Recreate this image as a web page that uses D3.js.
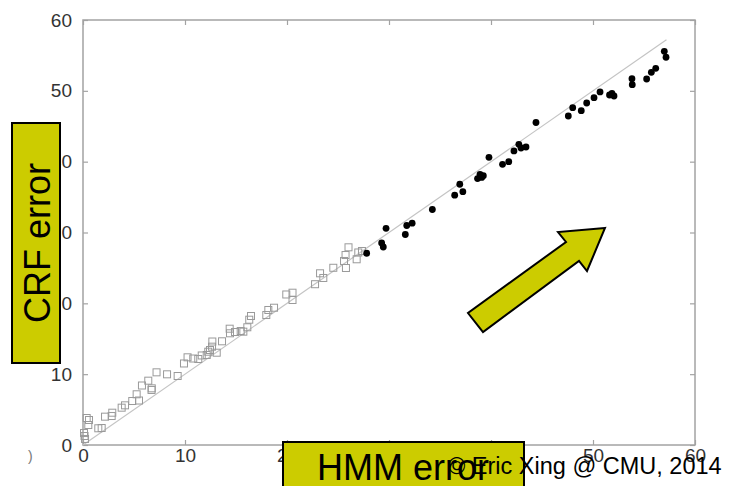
<!DOCTYPE html>
<html>
<head>
    <title>CRF vs HMM error</title>
    <style>
        body { margin: 0; background: #fff; }
        svg { display: block; font-family: "Liberation Sans", Arial, sans-serif; }
        .frame { fill: none; stroke: #a3a3a3; stroke-width: 1.5px; }
        .tick line { stroke: #a3a3a3; stroke-width: 1.2px; }
        .tick text { fill: #333; font-size: 19px; }
        .diag { stroke: #c4c4c4; stroke-width: 1.2px; }
        .sq { fill: none; stroke: #9a9a9a; stroke-width: 1px; }
        .dot { fill: #000; }
        .box { fill: #cccc00; stroke: #000; stroke-width: 2px; }
        .label { font-size: 36px; fill: #000; }
    </style>
</head>
<body>
    <div id="chart"></div>

    <script src="https://d3js.org/d3.v7.min.js"></script>
    <script>
        // tick values shared by both axes
        const ticks = [0, 10, 20, 30, 40, 50, 60];

        // open squares (small errors): [HMM error, CRF error]
        const squares = [
            [0.20, 0.85], [0.10, 1.69], [0.15, 1.27], [0.36, 3.81], [0.59, 3.53],
            [0.52, 2.82], [1.50, 2.36], [1.83, 2.40], [2.16, 4.00], [2.87, 4.56],
            [2.81, 4.09], [3.79, 5.27], [4.12, 5.60], [4.83, 6.21], [5.26, 7.16],
            [5.49, 6.28], [5.78, 8.40], [6.40, 9.08], [6.74, 8.00], [6.72, 7.77],
            [7.21, 10.26], [8.24, 9.98], [9.28, 9.74], [9.90, 11.51], [10.25, 12.38],
            [10.81, 12.21], [11.30, 12.14], [11.64, 12.64], [12.13, 12.71], [12.28, 13.17],
            [12.45, 13.41], [12.68, 14.61], [12.65, 13.88], [13.11, 13.03], [13.63, 14.64],
            [14.38, 16.42], [14.41, 15.77], [14.90, 15.95], [15.46, 16.09], [15.72, 16.00],
            [16.11, 16.62], [16.30, 17.69], [16.47, 18.21], [17.97, 18.35], [18.17, 19.06],
            [18.73, 19.38], [19.93, 21.25], [20.54, 21.50], [20.54, 20.47], [22.75, 22.70],
            [23.24, 24.24], [23.56, 23.58], [24.54, 25.02], [25.59, 25.98], [25.74, 26.82],
            [26.03, 27.91], [25.78, 24.99], [26.83, 26.22], [26.99, 27.18], [27.35, 27.39]
        ];

        // filled dots (large errors)
        const dots = [
            [27.81, 27.07], [29.28, 28.52], [29.44, 27.95], [29.71, 30.59], [31.60, 29.72],
            [31.74, 30.99], [32.27, 31.31], [34.25, 33.25], [36.44, 35.27], [36.94, 36.81],
            [37.24, 35.76], [38.68, 37.61], [38.92, 38.19], [39.25, 38.01], [39.09, 37.77],
            [39.80, 40.62], [41.13, 39.63], [41.74, 40.00], [42.25, 41.51], [42.73, 42.45],
            [42.94, 41.93], [43.43, 42.07], [44.41, 45.53], [47.58, 46.45], [48.01, 47.62],
            [48.85, 47.20], [49.38, 48.28], [50.10, 49.03], [50.69, 49.84], [51.62, 49.41],
            [51.86, 49.63], [52.06, 49.27], [53.82, 51.72], [53.85, 50.87], [55.26, 51.67],
            [55.72, 52.62], [56.15, 53.18], [56.99, 55.58], [57.16, 54.74]
        ];

        // y = x reference line
        const diagEnd = 57.2;

        const width = 729;
        const height = 486;

        const svg = d3.select("#chart")
            .append("svg")
            .attr("width", width)
            .attr("height", height);

        const x = d3.scaleLinear().domain([0, 60]).range([83, 695]);
        const y = d3.scaleLinear().domain([0, 60]).range([445, 20]);

        // axes, ticks pointing inward
        svg.append("g")
            .attr("transform", `translate(0,${y(0)})`)
            .call(d3.axisBottom(x).tickValues(ticks).tickSizeInner(-5).tickSizeOuter(0).tickPadding(4));
        svg.append("g")
            .attr("transform", `translate(${x(0)},0)`)
            .call(d3.axisLeft(y).tickValues(ticks).tickSizeInner(-5).tickSizeOuter(0).tickPadding(11));
        svg.append("g")
            .attr("transform", `translate(0,${y(60)})`)
            .call(d3.axisTop(x).tickValues(ticks).tickSizeInner(-5).tickSizeOuter(0).tickFormat(""));
        svg.append("g")
            .attr("transform", `translate(${x(60)},0)`)
            .call(d3.axisRight(y).tickValues(ticks).tickSizeInner(-5).tickSizeOuter(0).tickFormat(""));
        svg.selectAll(".domain").remove();

        svg.append("rect")
            .attr("class", "frame")
            .attr("x", x(0)).attr("y", y(60))
            .attr("width", x(60) - x(0)).attr("height", y(0) - y(60));

        // stray fragment at lower left
        svg.append("text")
            .attr("x", 28).attr("y", 461)
            .attr("fill", "#777")
            .attr("font-size", 14)
            .text(")");

        svg.append("line")
            .attr("class", "diag")
            .attr("x1", x(0)).attr("y1", y(0))
            .attr("x2", x(diagEnd)).attr("y2", y(diagEnd));

        svg.selectAll(".sq")
            .data(squares)
            .enter()
            .append("rect")
            .attr("class", "sq")
            .attr("x", d => x(d[0]) - 3.5)
            .attr("y", d => y(d[1]) - 3.5)
            .attr("width", 7)
            .attr("height", 7);

        svg.selectAll(".dot")
            .data(dots)
            .enter()
            .append("circle")
            .attr("class", "dot")
            .attr("cx", d => x(d[0]))
            .attr("cy", d => y(d[1]))
            .attr("r", 3.4);

        // yellow arrow
        const arrow = [[605, 228], [558, 232], [566, 242], [468, 313], [483, 332], [579, 261], [587, 271]];
        svg.append("polygon")
            .attr("class", "box")
            .attr("points", arrow.map(p => p.join(",")).join(" "));

        // axis label boxes
        svg.append("rect").attr("class", "box")
            .attr("x", 12).attr("y", 123).attr("width", 48).attr("height", 240);
        svg.append("text").attr("class", "label")
            .attr("transform", "translate(50,243) rotate(-90)")
            .attr("text-anchor", "middle")
            .text("CRF error");

        svg.append("rect").attr("class", "box")
            .attr("x", 283).attr("y", 442).attr("width", 241).attr("height", 60);
        svg.append("text").attr("class", "label")
            .attr("x", 403).attr("y", 480)
            .attr("text-anchor", "middle")
            .text("HMM error");

        svg.append("text")
            .attr("x", 448).attr("y", 474)
            .attr("font-size", 23.5)
            .attr("fill", "#000")
            .text("© Eric Xing @ CMU, 2014");
    </script>
</body>
</html>
